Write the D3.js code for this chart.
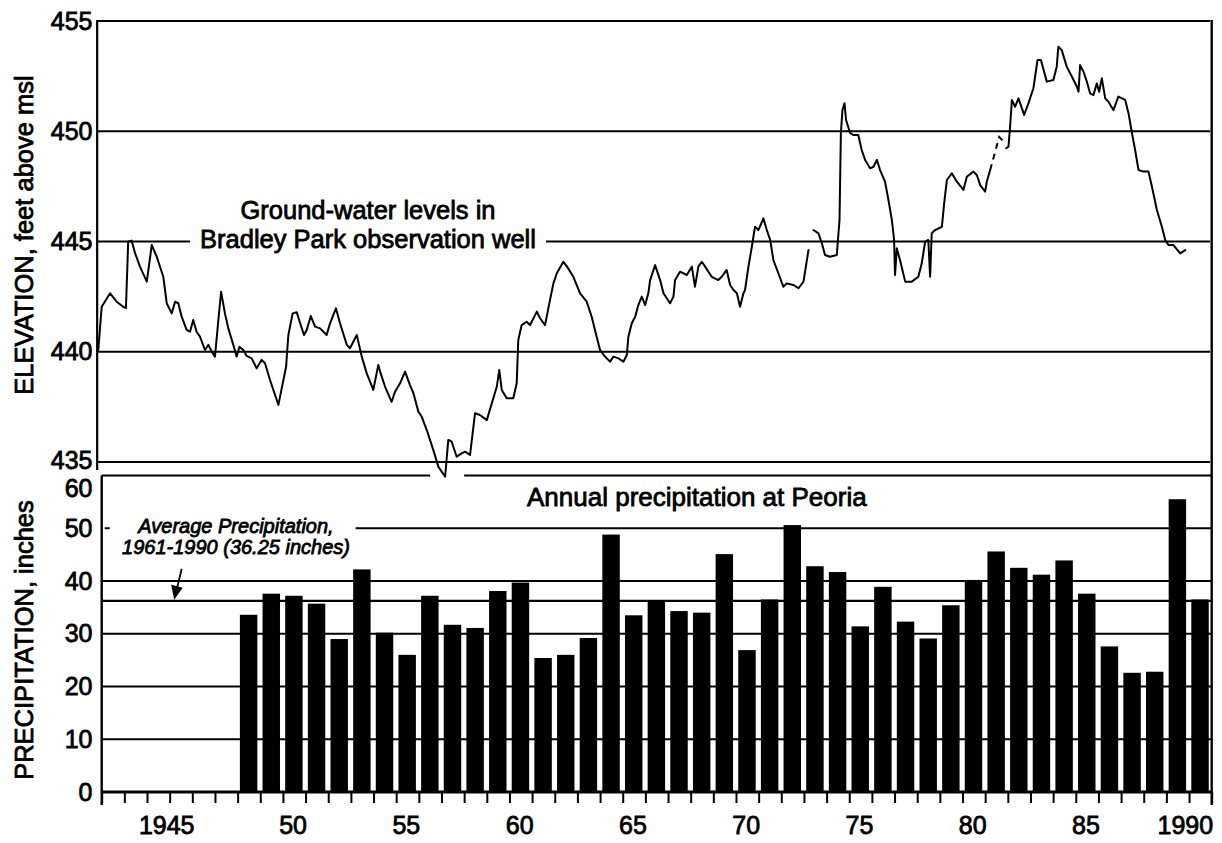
<!DOCTYPE html>
<html>
<head>
<meta charset="utf-8">
<script src="https://cdn.jsdelivr.net/npm/d3@7"></script>
<style>
html,body{margin:0;padding:0;background:#fff;}
svg{display:block;}
</style>
</head>
<body>
<svg id="chart" width="1222" height="843"></svg>
<script>
// ---------------- DATA ----------------
const precipYears = [1948,1949,1950,1951,1952,1953,1954,1955,1956,1957,1958,1959,1960,1961,1962,1963,1964,1965,1966,1967,1968,1969,1970,1971,1972,1973,1974,1975,1976,1977,1978,1979,1980,1981,1982,1983,1984,1985,1986,1987,1988,1989,1990];
const precipInches = [33.6,37.6,37.2,35.7,29.0,42.2,30.2,26.0,37.2,31.7,31.1,38.1,39.7,25.4,26.0,29.2,48.8,33.5,36.3,34.3,34.0,45.1,26.9,36.5,50.6,42.8,41.7,31.4,38.9,32.3,29.1,35.4,40.2,45.6,42.5,41.2,43.9,37.6,27.6,22.6,22.8,55.5,36.5];
const avgPrecip = 36.25;

// ground-water level, [decimal year, feet above msl]
const wellSegmentA = [[1941.85,440.08],[1942.00,442.04],[1942.37,442.65],[1942.66,442.27],[1942.95,442.04],[1943.07,441.98],[1943.17,444.99],[1943.32,445.04],[1943.47,444.48],[1943.69,443.86],[1943.99,443.18],[1944.21,444.84],[1944.43,444.31],[1944.72,443.40],[1944.87,442.20],[1945.09,441.74],[1945.24,442.27],[1945.38,442.20],[1945.53,441.59],[1945.75,440.99],[1945.90,440.91],[1946.04,441.44],[1946.19,440.91],[1946.34,440.68],[1946.56,440.08],[1946.71,440.31],[1946.86,440.00],[1947.00,439.78],[1947.15,441.44],[1947.27,442.72],[1947.44,441.74],[1947.59,441.06],[1947.81,440.31],[1947.96,439.78],[1948.08,440.23],[1948.25,440.08],[1948.40,439.81],[1948.62,439.70],[1948.84,439.25],[1949.06,439.63],[1949.21,439.48],[1949.43,438.72],[1949.80,437.59],[1950.02,438.72],[1950.14,439.32],[1950.24,440.76],[1950.43,441.74],[1950.61,441.79],[1950.76,441.29],[1950.93,440.76],[1951.05,440.99],[1951.23,441.62],[1951.42,441.14],[1951.64,441.06],[1951.93,440.76],[1952.08,441.29],[1952.34,441.97],[1952.52,441.29],[1952.82,440.31],[1952.96,440.16],[1953.26,440.76],[1953.48,439.78],[1953.70,439.02],[1953.99,438.27],[1954.21,439.40],[1954.29,439.10],[1954.51,438.41],[1954.80,437.73],[1954.95,438.19],[1955.17,438.57],[1955.39,439.10],[1955.61,438.49],[1955.76,438.12],[1955.98,437.28],[1956.13,437.05],[1956.35,436.45],[1956.64,435.54],[1956.86,434.79],[1957.16,434.33],[1957.30,436.00],[1957.45,435.92],[1957.67,435.24],[1957.89,435.39],[1958.04,435.47],[1958.26,435.32],[1958.48,437.21],[1958.70,437.13],[1959.00,436.90],[1959.22,437.66],[1959.44,438.41],[1959.55,439.17],[1959.66,438.27],[1959.88,437.89],[1960.17,437.89],[1960.32,438.57],[1960.39,440.53],[1960.54,441.21],[1960.76,441.36],[1960.91,441.21],[1961.21,441.82],[1961.35,441.52],[1961.57,441.21],[1961.79,442.35],[1961.94,443.10],[1962.09,443.56],[1962.38,444.08],[1962.55,443.85],[1962.82,443.40],[1963.12,442.65],[1963.41,442.27],[1963.63,441.59],[1963.85,440.68],[1964.00,440.08],[1964.22,439.78],[1964.44,439.55],[1964.59,439.78],[1964.81,439.70],[1965.03,439.55],[1965.18,439.85],[1965.25,440.68],[1965.40,441.29],[1965.55,441.59],[1965.69,442.12],[1965.84,442.50],[1965.99,442.12],[1966.13,442.65],[1966.21,443.25],[1966.43,443.93],[1966.65,443.25],[1966.80,442.65],[1967.09,442.20],[1967.24,442.50],[1967.31,443.25],[1967.53,443.63],[1967.83,443.48],[1968.05,443.86],[1968.19,442.95],[1968.34,443.86],[1968.49,444.08],[1968.64,443.86],[1968.78,443.63],[1968.93,443.40],[1969.22,443.25],[1969.37,443.40],[1969.59,443.71],[1969.74,443.03],[1969.89,442.80],[1970.04,442.65],[1970.18,442.04],[1970.33,442.65],[1970.40,442.80],[1970.55,443.86],[1970.70,444.76],[1970.84,445.67],[1970.99,445.52],[1971.21,446.05],[1971.36,445.52],[1971.51,445.07],[1971.65,444.16],[1971.87,443.56],[1972.09,442.95],[1972.24,443.10],[1972.53,443.03],[1972.76,442.88],[1972.98,443.18],[1973.20,444.61]];
const wellSegmentB = [[1973.42,445.52],[1973.64,445.37],[1973.79,444.92],[1973.93,444.39],[1974.15,444.31],[1974.45,444.39],[1974.57,445.98],[1974.63,449.91],[1974.70,450.96],[1974.79,451.27],[1974.86,450.51],[1975.04,449.91],[1975.18,449.83],[1975.40,449.83],[1975.55,449.15],[1975.70,448.70],[1975.92,448.32],[1976.07,448.39],[1976.22,448.70],[1976.36,448.24],[1976.58,447.71],[1976.73,446.88],[1976.88,445.98],[1976.98,445.07],[1977.02,443.48],[1977.10,444.69],[1977.24,444.16],[1977.47,443.18],[1977.76,443.18],[1978.05,443.40],[1978.20,444.01],[1978.35,444.99],[1978.49,445.07],[1978.57,443.40],[1978.64,445.37],[1978.79,445.52],[1979.09,445.67],[1979.19,446.73],[1979.31,447.79],[1979.53,448.09],[1979.75,447.71],[1980.04,447.34],[1980.19,447.94],[1980.48,448.17],[1980.63,448.02],[1980.78,447.56],[1981.00,447.26],[1981.07,447.71],[1981.22,448.24]];
const wellEstimated = [[1981.22,448.24],[1981.62,449.74],[1981.79,449.56]];
const wellSegmentC = [[1981.93,449.23],[1982.03,449.30],[1982.10,450.21],[1982.18,451.42],[1982.32,451.11],[1982.47,451.49],[1982.72,450.74],[1982.91,451.27],[1983.13,451.95],[1983.31,453.23],[1983.46,453.23],[1983.72,452.25],[1984.01,452.32],[1984.16,452.93],[1984.23,453.83],[1984.38,453.68],[1984.60,452.93],[1984.83,452.47],[1985.05,452.02],[1985.12,451.79],[1985.19,453.00],[1985.34,452.70],[1985.49,452.25],[1985.63,451.72],[1985.78,451.64],[1985.93,452.17],[1986.03,451.79],[1986.15,452.40],[1986.30,451.49],[1986.44,451.34],[1986.66,450.96],[1986.88,451.57],[1987.18,451.42],[1987.33,450.81],[1987.48,449.91],[1987.62,449.15],[1987.77,448.24],[1987.99,448.17],[1988.21,448.17],[1988.36,447.49],[1988.58,446.43],[1988.80,445.67],[1988.95,445.07],[1989.09,444.84],[1989.31,444.84],[1989.61,444.46],[1989.83,444.61]];

const levelTicks = [435,440,445,450,455];
const precipTicks = [0,10,20,30,40,50,60];
const yearTickValues = [1942,1943,1944,1945,1946,1947,1948,1949,1950,1951,1952,1953,1954,1955,1956,1957,1958,1959,1960,1961,1962,1963,1964,1965,1966,1967,1968,1969,1970,1971,1972,1973,1974,1975,1976,1977,1978,1979,1980,1981,1982,1983,1984,1985,1986,1987,1988,1989,1990,1991];
const yearLabelValues = [1945,1950,1955,1960,1965,1970,1975,1980,1985,1990];
const yearLabelText = ["1945","50","55","60","65","70","75","80","85","1990"];

const wellTitle = ["Ground-water levels in","Bradley Park observation well"];
const precipTitle = "Annual precipitation at Peoria";
const avgNote = ["Average Precipitation,","1961-1990 (36.25 inches)"];
const yTitleTop = "ELEVATION, feet above msl";
const yTitleBottom = "PRECIPITATION, inches";

// ---------------- DRAWING ----------------
const FONT = '"Liberation Sans", Arial, Helvetica, sans-serif';
const TEXT_STROKE = 0.8;
const svg = d3.select("#chart");
const g = svg.append("g");

const x = d3.scaleLinear().domain([1942, 1991]).range([101.7, 1211.7]);
const yTop = d3.scaleLinear().domain([435, 455]).range([462, 21]);
const yBot = d3.scaleLinear().domain([0, 60]).range([792, 475.5]);

const topLeft = x(1941.8), topRight = x(1990.93);
const botLeft = x(1942), botRight = x(1991);

function seg(x1, x2, y1, y2, w) {
  g.append("line").attr("x1", x1).attr("x2", x2).attr("y1", y1).attr("y2", y2)
    .attr("stroke", "#000").attr("stroke-width", w || 2);
}
function styleText(sel, size) {
  sel.attr("font-family", FONT).attr("font-size", size)
    .attr("fill", "#000").attr("stroke", "#000").attr("stroke-width", TEXT_STROKE);
}
function txt(s, xx, yy, size, anchor, extra) {
  const t = g.append("text").attr("x", xx).attr("y", yy)
    .attr("text-anchor", anchor || "start").text(s);
  styleText(t, size);
  if (extra) extra(t);
  return t;
}

// --- top panel titles (measured for gridline gap) ---
const titleX = 368;
txt(wellTitle[0], titleX, yTop(445) - 22.5, 25.5, "middle");
const t2 = txt(wellTitle[1], titleX, yTop(445) + 6.5, 25.5, "middle");
const b2 = t2.node().getBBox();

// top gridlines
levelTicks.forEach(v => {
  if (v === 445) {
    seg(topLeft, b2.x - 10, yTop(v), yTop(v));
    seg(b2.x + b2.width + 10, topRight, yTop(v), yTop(v));
  } else {
    seg(topLeft, topRight, yTop(v), yTop(v));
  }
});

// top left axis
seg(topLeft, topLeft, yTop(455) - 1, yTop(435) + 8, 2.2);

// top y labels
const axTop = g.append("g").attr("transform", `translate(${topLeft},0)`)
  .call(d3.axisLeft(yTop).tickValues(levelTicks).tickSize(0).tickPadding(4.7).tickFormat(d3.format("d")));
axTop.select(".domain").remove();
styleText(axTop.selectAll("text"), 25);
axTop.selectAll(".tick").filter(d => d === 435).select("text").attr("dy", "0.25em");

// --- bottom panel ---
// average note
const n1 = txt(avgNote[0], 236, yBot(50) + 5, 20, "middle", t => t.attr("font-style", "italic"));
txt(avgNote[1], 236, yBot(50) + 26, 20, "middle", t => t.attr("font-style", "italic"));
const bn1 = n1.node().getBBox();

// gridlines
[10, 20, 30, 40].forEach(v => seg(botLeft, botRight, yBot(v), yBot(v)));
seg(botLeft + 3, botLeft + 8, yBot(50), yBot(50));
seg(bn1.x + bn1.width + 22, botRight, yBot(50), yBot(50));
// top of bottom panel (60), broken where the well curve dips
seg(botLeft, x(1956.5), yBot(60), yBot(60), 2.2);
seg(x(1958.0), botRight, yBot(60), yBot(60), 2.2);

// bars
g.append("g").selectAll("rect").data(precipYears).join("rect")
  .attr("x", (d) => x(d + 0.1))
  .attr("width", (d) => x(d + 0.87) - x(d + 0.1))
  .attr("y", (d, i) => yBot(precipInches[i]))
  .attr("height", (d, i) => yBot(0) - yBot(precipInches[i]))
  .attr("fill", "#000");

// average line
seg(botLeft, botRight, yBot(avgPrecip), yBot(avgPrecip), 2.2);

// arrow to the average line
const tipX = x(1945.2), tipY = yBot(avgPrecip) - 1;
seg(tipX + 7.5, tipX + 2.5, tipY - 31, tipY - 10, 1.8);
g.append("path")
  .attr("d", `M${tipX},${tipY} L${tipX - 3},${tipY - 15} L${tipX + 8.5},${tipY - 12} Z`)
  .attr("fill", "#000");

// precipitation title
txt(precipTitle, 527, 506, 26, "start");

// bottom axis lines
seg(botLeft, botLeft, yBot(60), yBot(0) + 13, 2.4);
seg(botRight, botRight, yTop(455) - 1, yBot(0) + 13, 2.4);
seg(botLeft, botRight, yBot(0), yBot(0), 3);

// year ticks
const axX = g.append("g").attr("transform", `translate(0,${yBot(0)})`)
  .call(d3.axisBottom(x).tickValues(yearTickValues).tickSize(11).tickFormat(""));
axX.select(".domain").remove();
axX.selectAll("line").attr("stroke", "#000").attr("stroke-width", 2);

// year labels
yearLabelValues.forEach((yr, i) => {
  const s = yearLabelText[i];
  if (yr === 1990) txt(s, botRight + 1.5, 834, 25, "end");
  else if (yr === 1945) txt(s, x(yr - 0.13), 834, 25, "middle");
  else txt(s, x(yr + 0.45), 834, 25, "middle");
});

// bottom y labels
const axBot = g.append("g").attr("transform", `translate(${botLeft},0)`)
  .call(d3.axisLeft(yBot).tickValues(precipTicks).tickSize(0).tickPadding(9.2).tickFormat(d3.format("d")));
axBot.select(".domain").remove();
styleText(axBot.selectAll("text"), 25);
axBot.selectAll(".tick").filter(d => d === 60).select("text").attr("dy", "0.85em");

// --- well hydrograph ---
const line = d3.line().x(d => x(d[0])).y(d => yTop(d[1])).curve(d3.curveLinear);
[wellSegmentA, wellSegmentB, wellSegmentC].forEach(s => {
  g.append("path").datum(s).attr("d", line)
    .attr("fill", "none").attr("stroke", "#000").attr("stroke-width", 2)
    .attr("stroke-linejoin", "round").attr("stroke-linecap", "round");
});
g.append("path").datum(wellEstimated).attr("d", line)
  .attr("fill", "none").attr("stroke", "#000").attr("stroke-width", 2)
  .attr("stroke-dasharray", "6,5");

// --- axis titles ---
const at1 = g.append("text").attr("transform", "translate(33,235) rotate(-90)")
  .attr("text-anchor", "middle").text(yTitleTop);
styleText(at1, 25.5);
const at2 = g.append("text").attr("transform", "translate(33,640) rotate(-90)")
  .attr("text-anchor", "middle").text(yTitleBottom);
styleText(at2, 25.5);
</script>
</body>
</html>
